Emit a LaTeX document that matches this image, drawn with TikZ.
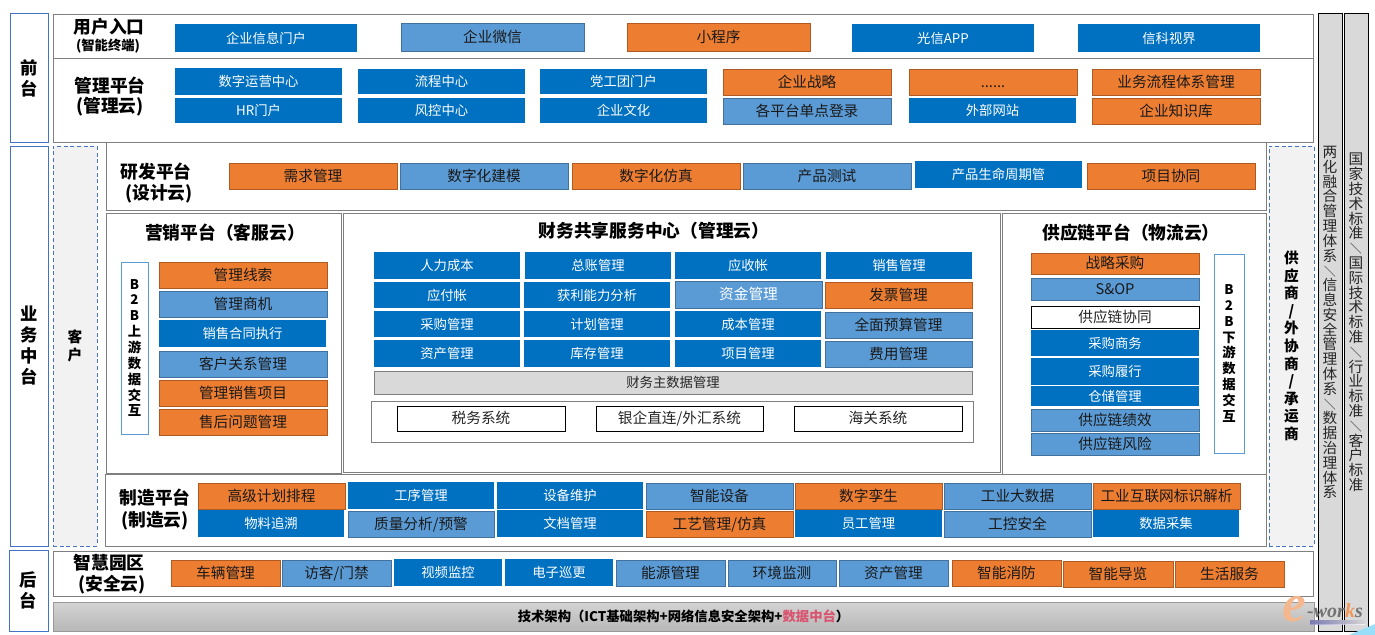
\documentclass[tikz,border=0pt]{standalone}
\usepackage{fontspec}
\setmainfont{Noto Sans CJK SC}
\newfontfamily\wmfont{Liberation Serif}
\definecolor{darkblu}{HTML}{0070C0}
\definecolor{lightblu}{HTML}{5B9BD5}
\definecolor{lightedge}{HTML}{41719C}
\definecolor{orng}{HTML}{ED7D31}
\definecolor{orngedge}{HTML}{AE5A21}
\definecolor{sideblu}{HTML}{4472C4}
\definecolor{framegray}{HTML}{7F7F7F}
\definecolor{datared}{HTML}{D9546F}
\tikzset{
  boxat/.style n args={4}{minimum width={(#3-#1)*.75pt},minimum height={(#4-#2)*.75pt},at={({(#1+#3)/2},{(#2+#4)/2})}},
  pbox/.style={inner sep=0pt,outer sep=0pt,text height=.9em,text depth=.12em},
  blubox/.style={pbox,fill=darkblu,text=white,font=\fontsize{10}{12}\selectfont},
  ltbox/.style={pbox,fill=lightblu,draw=lightedge,line width=.6pt,text=black!90,font=\fontsize{11}{13}\selectfont},
  orbox/.style={pbox,fill=orng,draw=orngedge,line width=.6pt,text=black!90,font=\fontsize{11}{13}\selectfont},
  whbox/.style={pbox,fill=white,draw=black,line width=.6pt,text=black!85,font=\fontsize{11}{13}\selectfont},
  pframe/.style={inner sep=0pt,outer sep=0pt,draw=framegray,line width=.6pt},
  sidebox/.style={inner sep=0pt,outer sep=0pt,draw=sideblu,line width=.75pt,fill=white,
    font=\bfseries\fontsize{13}{15.75}\selectfont,align=center},
  dashbox/.style={inner sep=0pt,outer sep=0pt,draw=sideblu,densely dashed,line width=.6pt,fill=black!5,
    font=\bfseries\fontsize{11}{13.2}\selectfont,align=center},
  b2bbox/.style={inner sep=0pt,outer sep=0pt,draw=lightblu,line width=.6pt,fill=white,
    font=\bfseries\fontsize{10}{11.9}\selectfont,align=center},
  stdbox/.style={inner sep=0pt,outer sep=0pt,draw=black,line width=.75pt,fill=black!15},
  stdtxt/.style={inner sep=0pt,anchor=north,align=center,text=black!85,font=\fontsize{11}{11.1}\selectfont},
  headtxt/.style={inner sep=0pt,align=center,font=\bfseries\fontsize{13.3}{15}\selectfont},
  smalltxt/.style={inner sep=0pt,align=center,font=\bfseries\fontsize{10}{12}\selectfont},
}
\newcommand{\vslash}{\raisebox{-.08em}[.75em][.1em]{\rotatebox{90}{\scalebox{.8}{／}}}}
\begin{document}
\begin{tikzpicture}[x=.75pt,y=-.75pt]
  \useasboundingbox (0,0) rectangle (1375,635);
  % Frames of the platforms
  \foreach \nm/\xa/\ya/\xb/\yb in {entry/53/14/1313/58, mgmt/53/58/1313/142, rnd/106/142/1266/210,
    sales/106/213/341/473, fin/343/213/1000/472, supply/1002/213/1266/474, make/105/474/1266/546,
    park/53/551/1313/596, finsys/371/401/973/442}{
    \node[pframe,boxat={\xa}{\ya}{\xb}{\yb}] (\nm) {};
  }
  % Left stages and dashed side bars
  \node[sidebox,boxat={10}{14}{48}{142}] (front) {前\\台};
  \node[sidebox,boxat={10}{146}{48}{546}] (middle) {业\\务\\中\\台};
  \node[sidebox,boxat={9}{550}{48}{631}] (back) {后\\台};
  \node[dashbox,boxat={53}{146}{97}{546}] (cust) {客\\户};
  \node[dashbox,boxat={1269}{146}{1314}{546}] (partner) {供\\应\\商\\/\\外\\协\\商\\/\\承\\运\\商};
  % Standards on the right
  \node[stdbox,boxat={1318}{14}{1342}{631}] (stda) {};
  \node[stdbox,boxat={1344}{14}{1368}{631}] (stdb) {};
  \node[stdtxt] (stdatxt) at (1330,146) {两\\化\\融\\合\\管\\理\\体\\系\\\vslash\\信\\息\\安\\全\\管\\理\\体\\系\\\vslash\\数\\据\\治\\理\\体\\系};
  \node[stdtxt] (stdbtxt) at (1356,153) {国\\家\\技\\术\\标\\准\\\vslash\\国\\际\\技\\术\\标\\准\\\vslash\\行\\业\\标\\准\\\vslash\\客\\户\\标\\准};
  % Headings
  \foreach \nm/\x/\y/\txt in {h1/109/27/用户入口, h2/110/86/管理平台, h3/110/107/(管理云), h4/156/172/研发平台,
    h5/159/194/(设计云), h6/225/233/营销平台（客服云）, h7/654/231/财务共享服务中心（管理云）,
    h8/1131/233/供应链平台（物流云）, h9/155/498/制造平台, h10/155/521/(制造云), h11/109/563/智慧园区, h12/112/585/(安全云)}{
    \node[headtxt] (\nm) at (\x,\y) {\txt};
  }
  \node[smalltxt] (h0) at (108,46) {(智能终端)};
  % Dark blue boxes
  \foreach \nm/\xa/\ya/\xb/\yb/\txt in {a1/175/24/357/52/企业信息门户, a4/852/24/1034/52/光信APP, a5/1078/24/1260/52/信科视界,
    b1/175/68/342/95/数字运营中心, b2/358/69/525/94/流程中心, b3/540/69/707/94/党工团门户,
    c1/175/98/342/123/HR门户, c2/358/98/525/123/风控中心, c3/540/98/707/123/企业文化, c5/909/98/1076/123/外部网站,
    d5/915/161/1082/188/产品生命周期管,
    s3/159/320/326/347/销售合同执行,
    f1/374/252/520/279/人力成本, f2/525/252/671/279/总账管理, f3/675/252/821/279/应收帐, f4/826/252/972/279/销售管理,
    g1/374/282/520/308/应付帐, g2/524/282/670/308/获利能力分析,
    i1/374/311/520/337/采购管理, i2/524/311/670/337/计划管理, i3/675/311/821/337/成本管理,
    j1/374/340/520/367/资产管理, j2/524/340/670/367/库存管理, j3/675/340/821/367/项目管理,
    u4/1031/330/1199/356/采购商务, u5/1031/358/1199/385/采购履行, u6/1031/386/1199/406/仓储管理,
    m2/348/482/494/509/工序管理, m3/497/482/643/509/设备维护, n1/198/510/344/537/物料追溯, n3/497/510/643/537/文档管理,
    n5/795/510/942/537/员工管理, n7/1093/510/1239/537/数据采集,
    p3/394/559/502/586/视频监控, p4/505/559/613/586/电子巡更}{
    \node[blubox,boxat={\xa}{\ya}{\xb}{\yb}] (\nm) {\txt};
  }
  % Light blue boxes
  \foreach \nm/\xa/\ya/\xb/\yb/\txt in {a2/401/23/584/51/企业微信, c4/723/98/891/124/各平台单点登录,
    d2/400/163/568/189/数字化建模, d4/743/163/911/189/产品测试,
    s2/159/291/327/317/管理商机, s4/159/351/327/377/客户关系管理,
    i4/825/312/972/338/全面预算管理, j4/825/341/972/367/费用管理,
    u2/1031/278/1199/300/S\&OP, u7/1031/409/1199/431/供应链绩效, u8/1031/433/1199/455/供应链风险,
    m4/646/483/793/509/智能设备, m6/944/483/1091/509/工业大数据, n2/348/511/494/537/{质量分析/预警}, n6/944/511/1091/537/工控安全,
    p2/282/560/391/586/{访客/门禁}, p5/616/560/725/586/能源管理, p6/728/560/836/586/环境监测, p7/839/560/948/586/资产管理}{
    \node[ltbox,boxat={\xa}{\ya}{\xb}{\yb}] (\nm) {\txt};
  }
  \node[ltbox,text=white,boxat={675}{281}{822}{308}] (g3) {资金管理};
  % Orange boxes
  \foreach \nm/\xa/\ya/\xb/\yb/\txt in {a3/627/23/810/51/小程序, b4/723/69/891/95/企业战略,
    b6/1092/69/1260/95/业务流程体系管理, c6/1092/98/1260/124/企业知识库,
    d1/229/163/397/189/需求管理, d3/572/163/740/189/数字化仿真, d6/1087/163/1255/189/项目协同,
    s1/159/262/327/288/管理线索, s5/159/380/327/406/管理销售项目, s6/159/409/327/435/售后问题管理,
    g4/825/282/972/308/发票管理, u1/1031/253/1199/274/战略采购,
    m1/198/483/345/509/高级计划排程, m5/795/483/942/509/数字孪生, m7/1093/483/1240/509/工业互联网标识解析, n4/646/511/793/537/{工艺管理/仿真},
    p1/171/560/280/586/车辆管理, p8/952/560/1061/586/智能消防, p9/1063/561/1173/587/智能导览, p10/1175/561/1284/587/生活服务}{
    \node[orbox,boxat={\xa}{\ya}{\xb}{\yb}] (\nm) {\txt};
  }
  \node[orbox,boxat={909}{69}{1077}{95}] (b5) {......};
  % White boxes
  \foreach \nm/\xa/\ya/\xb/\yb/\txt in {u3/1031/306/1199/328/供应链协同, t1/397/406/565/431/税务系统,
    t2/596/406/763/431/{银企直连/外汇系统}, t3/794/406/962/431/海关系统}{
    \node[whbox,boxat={\xa}{\ya}{\xb}{\yb}] (\nm) {\txt};
  }
  \node[pbox,fill=black!15,draw=framegray,line width=.6pt,text=black!85,font=\fontsize{10}{12}\selectfont,
    boxat={374}{371}{972}{394}] (findata) {财务主数据管理};
  % B2B columns
  \node[b2bbox,boxat={121}{262}{148}{434}] (upb2b) {B\\2\\B\\上\\游\\数\\据\\交\\互};
  \node[b2bbox,boxat={1214}{254}{1244}{453}] (downb2b) {B\\2\\B\\下\\游\\数\\据\\交\\互};
  % Bottom bar
  \node[pbox,top color=black!17,bottom color=black!28,draw=black!40,line width=.75pt,
    font=\bfseries\fontsize{10}{12}\selectfont,boxat={53}{602}{1314}{631}] (tech)
    {技术架构（ICT基础架构+网络信息安全架构+\textcolor{datared}{数据中台}）};
  % Watermark
  \fill[left color=blue!45!gray!60,right color=white,opacity=.8] (1310,620) rectangle (1365,624);
  \fill[cyan!40] (1375,624) -- (1375,635) -- (1349,635) -- cycle;
  \node[inner sep=0pt,text=orng!55,font=\wmfont\bfseries\itshape\fontsize{40}{40}\selectfont] (wme) at (1294,609) {e};
  \node[inner sep=0pt,text=black!55,font=\wmfont\bfseries\itshape\fontsize{15}{15}\selectfont] (wmt) at (1335,611)
    {-wor\textcolor{orng!80}{k}s};
\end{tikzpicture}
\end{document}
